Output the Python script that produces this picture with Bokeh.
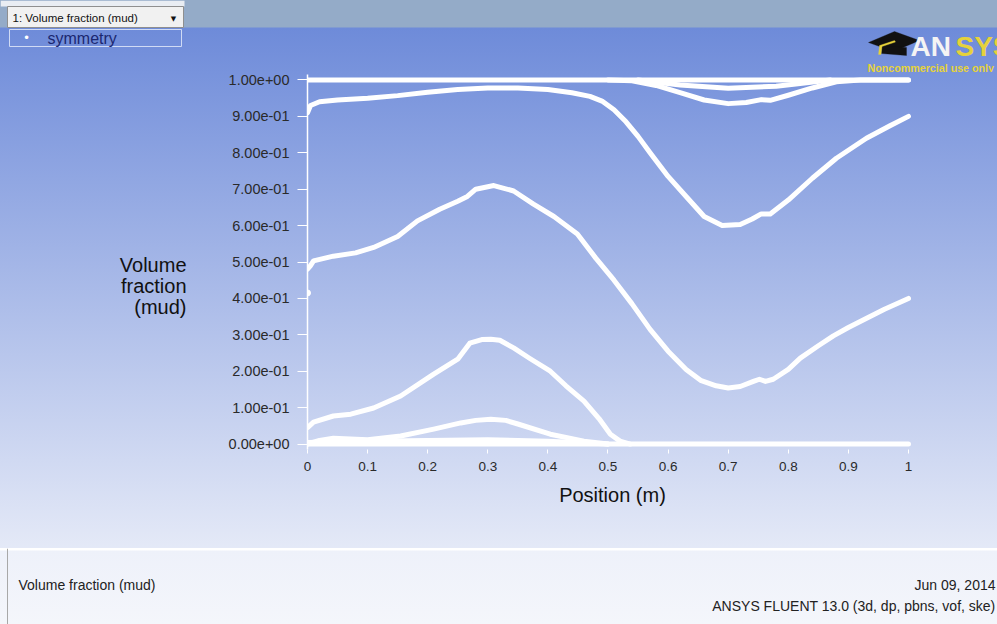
from bokeh.plotting import figure
from bokeh.layouts import column, row
from bokeh.models import (Range1d, FixedTicker, CustomJSTickFormatter, Label, BoxAnnotation,
                          PolyAnnotation)
from bokeh.embed import file_html
from bokeh.resources import INLINE

# ---------------- data ----------------
x_ticks = [0, 0.1, 0.2, 0.3, 0.4, 0.5, 0.6, 0.7, 0.8, 0.9, 1.0]
x_tick_labels = ["0", "0.1", "0.2", "0.3", "0.4", "0.5", "0.6", "0.7", "0.8", "0.9", "1"]
y_ticks = [0, 0.1, 0.2, 0.3, 0.4, 0.5, 0.6, 0.7, 0.8, 0.9, 1.0]
y_tick_labels = ["0.00e+00", "1.00e-01", "2.00e-01", "3.00e-01", "4.00e-01", "5.00e-01",
                 "6.00e-01", "7.00e-01", "8.00e-01", "9.00e-01", "1.00e+00"]

top_x = [0.0, 1.0]
top_y = [1.0, 1.0]

dip_a_x = [0.50, 0.54, 0.58, 0.62, 0.66, 0.70, 0.73, 0.755, 0.77, 0.80, 0.84, 0.88, 0.92, 1.0]
dip_a_y = [1.0, 0.998, 0.985, 0.965, 0.945, 0.935, 0.938, 0.946, 0.944, 0.958, 0.978, 0.995, 1.0, 1.0]

dip_b_x = [0.55, 0.62, 0.70, 0.78, 0.87]
dip_b_y = [1.0, 0.986, 0.977, 0.983, 1.0]

c1_x = [0, 0.005, 0.02, 0.05, 0.1, 0.15, 0.2, 0.25, 0.3, 0.35, 0.4, 0.44, 0.47, 0.49, 0.51,
        0.53, 0.55, 0.57, 0.6, 0.63, 0.66, 0.69, 0.72, 0.74, 0.755, 0.77, 0.8, 0.84, 0.88,
        0.93, 0.97, 1.0]
c1_y = [0.91, 0.93, 0.94, 0.945, 0.95, 0.957, 0.966, 0.974, 0.978, 0.978, 0.974, 0.965,
        0.955, 0.942, 0.918, 0.885, 0.845, 0.8, 0.735, 0.68, 0.625, 0.6, 0.603, 0.618, 0.632,
        0.632, 0.67, 0.73, 0.785, 0.84, 0.875, 0.90]

c2_x = [0, 0.005, 0.01, 0.043, 0.08, 0.11, 0.15, 0.183, 0.22, 0.25, 0.266, 0.28, 0.31,
        0.343, 0.376, 0.41, 0.449, 0.48, 0.51, 0.54, 0.57, 0.6, 0.63, 0.654, 0.68, 0.70,
        0.72, 0.742, 0.752, 0.762, 0.775, 0.8, 0.82, 0.85, 0.875, 0.9, 0.932, 0.96, 1.0]
c2_y = [0.48, 0.49, 0.503, 0.516, 0.525, 0.54, 0.57, 0.613, 0.645, 0.667, 0.68, 0.70, 0.71,
        0.695, 0.659, 0.625, 0.577, 0.51, 0.45, 0.385, 0.315, 0.255, 0.205, 0.175, 0.16,
        0.154, 0.158, 0.172, 0.178, 0.172, 0.178, 0.205, 0.236, 0.27, 0.297, 0.32, 0.347,
        0.37, 0.40]

c3_x = [0, 0.01, 0.043, 0.072, 0.11, 0.155, 0.21, 0.25, 0.27, 0.29, 0.305, 0.32, 0.343,
        0.37, 0.404, 0.43, 0.46, 0.485, 0.504, 0.52, 0.537]
c3_y = [0.045, 0.06, 0.077, 0.082, 0.099, 0.132, 0.192, 0.233, 0.277, 0.287, 0.288, 0.285,
        0.264, 0.235, 0.2, 0.16, 0.118, 0.07, 0.027, 0.008, 0.0]

c4_x = [0, 0.02, 0.043, 0.1, 0.155, 0.21, 0.255, 0.28, 0.305, 0.33, 0.35, 0.404, 0.46, 0.5]
c4_y = [0.0, 0.01, 0.016, 0.012, 0.022, 0.041, 0.058, 0.065, 0.068, 0.065, 0.055, 0.027,
        0.008, 0.0]

c5_x = [0, 0.1, 0.2, 0.3, 0.4, 0.5]
c5_y = [0.004, 0.008, 0.01, 0.012, 0.008, 0.0]

zero_x = [0.0, 1.0]
zero_y = [0.0, 0.0]

lone_x = [0.0]
lone_y = [0.415]

# ---------------- layout ----------------
PW, PH = 997, 624
TOP_H = 72          # top strip (dropdown, legend, logo)
BOT_Y = 548         # start of bottom strip
LEFT_W = 200        # left strip with the y title
MID_H = BOT_Y - TOP_H
FONT = "Liberation Sans"

MW = PW - LEFT_W
FL = 307 - LEFT_W           # frame left inside main figure
FW, FH = 610, 375
FT = 2
FB = MID_H - FT - FH
X0, X1 = 0.0, 1.015
Y0, Y1 = -0.015, 1.015

C_TOP = (0x6e, 0x8b, 0xd9)
C_BOT = (0xe4, 0xe9, 0xf7)


def grad(py):
    t = min(max((py - 28) / (547 - 28), 0.0), 1.0)
    return "#%02x%02x%02x" % tuple(int(round(a + (b - a) * t)) for a, b in zip(C_TOP, C_BOT))


def deco_fig(w, h, x0, y0, bt=0, bb=0):
    # frame covers [x0, x0+w] x [y0+bt, y0+h-bb] in page pixels (y downwards)
    f = figure(width=w, height=h, output_backend="svg", toolbar_location=None,
               x_range=Range1d(x0, x0 + w), y_range=Range1d(y0 + h - bb, y0 + bt),
               x_axis_type=None, y_axis_type=None,
               min_border_left=0, min_border_right=0, min_border_top=bt, min_border_bottom=bb)
    f.background_fill_alpha = 0
    f.border_fill_alpha = 0
    f.outline_line_color = None
    f.grid.grid_line_color = None
    return f


def text(f, x, y, s, size, color="#111111", align="left", style="normal", font=FONT):
    f.add_layout(Label(x=x, y=y, text=s, text_align=align, text_baseline="middle",
                       text_font=font, text_font_size=size, text_color=color,
                       text_font_style=style))


# ---- top strip ----
top = deco_fig(PW, TOP_H, 0, 0)
top.styles = {"background": "linear-gradient(to bottom, #94abc8 0px, #94abc8 27px, "
                            "#6e8bd9 28px, %s %dpx)" % (grad(TOP_H), TOP_H)}
top.add_layout(BoxAnnotation(left=0, right=184, top=0, bottom=6, fill_color="#e9edf3",
                             fill_alpha=1, line_alpha=0))
top.add_layout(BoxAnnotation(left=7, right=183, top=6, bottom=27, fill_color="#f1f1f1",
                             fill_alpha=1, line_color="#8f8f8f", line_alpha=1, line_width=1))
text(top, 12, 17, "1: Volume fraction (mud)", "11.5px")
text(top, 173, 18, "\u25BC", "7px", align="center", font="DejaVu Sans")
top.add_layout(BoxAnnotation(left=9, right=181, top=29, bottom=46, fill_alpha=0,
                             line_color="#d0dbf5", line_alpha=1, line_width=1))
text(top, 26, 37.5, "\u2022", "12px", color="white", align="center", font="DejaVu Sans")
text(top, 47, 38, "symmetry", "16px", color="#1b2770")
# ANSYS logo (mortarboard + wordmark)
top.add_layout(PolyAnnotation(xs=[868, 894, 919, 893], ys=[42, 31, 40, 51],
                              fill_color="#111111", fill_alpha=1, line_color="#111111"))
top.add_layout(PolyAnnotation(xs=[881, 906, 906, 881], ys=[45, 47, 55, 53],
                              fill_color="#111111", fill_alpha=1, line_color="#111111"))
top.add_layout(PolyAnnotation(xs=[894, 879, 878, 880.5, 881.5, 895], ys=[40, 45, 54, 54, 46, 41.5],
                              fill_color="#e6d23a", fill_alpha=1, line_color="#e6d23a"))
text(top, 910, 46, "AN", "28px", color="#f4f4f4", style="bold")
text(top, 955, 46, "SYS", "28px", color="#e6d23a", style="bold")
text(top, 867, 67, "Noncommercial use only", "10.7px", color="#e6d23a", style="bold")

# ---- left strip (y title); its frame is aligned with the main frame ----
left = deco_fig(LEFT_W, MID_H, 0, TOP_H, bt=FT, bb=FB)
left.styles = {"background": "linear-gradient(to bottom, %s 0px, %s %dpx)"
                             % (grad(TOP_H), grad(BOT_Y), MID_H)}
for s, py in [("Volume", 264), ("fraction", 285), ("(mud)", 306)]:
    text(left, 186, py, s, "20px", align="right")

# ---- main plot ----
p = figure(width=MW, height=MID_H, output_backend="svg", toolbar_location=None,
           x_range=Range1d(X0, X1), y_range=Range1d(Y0, Y1),
           min_border_left=FL, min_border_top=FT,
           min_border_right=MW - FL - FW, min_border_bottom=FB)
p.background_fill_alpha = 0
p.border_fill_alpha = 0
p.outline_line_color = None
p.grid.grid_line_color = None
p.styles = {"background": "linear-gradient(to bottom, %s 0px, %s %dpx)"
                          % (grad(TOP_H), grad(BOT_Y), MID_H)}

fmt_code = ("const i = tvals.findIndex(t => Math.abs(t - tick) < 1e-9);"
            "return i >= 0 ? tlabels[i] : String(tick);")

xa = p.xaxis[0]
xa.ticker = FixedTicker(ticks=x_ticks)
xa.formatter = CustomJSTickFormatter(args=dict(tvals=x_ticks, tlabels=x_tick_labels), code=fmt_code)
xa.axis_line_color = None
xa.major_tick_line_color = "white"
xa.major_tick_out = 4
xa.major_tick_in = 0
xa.minor_tick_line_color = None
xa.major_label_standoff = 8
xa.major_label_text_font = FONT
xa.major_label_text_font_size = "13.5px"
xa.major_label_text_color = "#2a2a2a"
xa.axis_label = "Position (m)"
xa.axis_label_text_font = FONT
xa.axis_label_text_font_size = "20px"
xa.axis_label_text_font_style = "normal"
xa.axis_label_text_color = "#111111"
xa.axis_label_standoff = 10

ya = p.yaxis[0]
ya.ticker = FixedTicker(ticks=y_ticks)
ya.formatter = CustomJSTickFormatter(args=dict(tvals=y_ticks, tlabels=y_tick_labels), code=fmt_code)
ya.axis_line_color = "white"
ya.axis_line_width = 1.5
ya.major_tick_line_color = "white"
ya.major_tick_out = 10
ya.major_tick_in = 0
ya.minor_tick_line_color = None
ya.major_label_standoff = 8
ya.major_label_text_font = FONT
ya.major_label_text_font_size = "14.5px"
ya.major_label_text_color = "#2a2a2a"

for xs, ys in [(top_x, top_y), (dip_b_x, dip_b_y), (dip_a_x, dip_a_y), (c1_x, c1_y),
               (c2_x, c2_y), (c3_x, c3_y), (c4_x, c4_y), (c5_x, c5_y), (zero_x, zero_y)]:
    p.line(xs, ys, line_color="white", line_width=5, line_cap="round", line_join="round")
p.scatter(lone_x, lone_y, size=6, fill_color="white", line_color="white")

# ---- bottom strip ----
bot = deco_fig(PW, PH - BOT_Y, 0, BOT_Y)
bot.styles = {"background": "linear-gradient(to bottom, #ffffff 0px, #ffffff 2px, "
                            "#eef1fa 3px, #f4f6fb %dpx)" % (PH - BOT_Y)}
bot.add_layout(BoxAnnotation(left=6.5, right=7.5, top=BOT_Y, bottom=PH, fill_color="#a8a8a8",
                             fill_alpha=1, line_alpha=0))
text(bot, 18, 584, "Volume fraction (mud)", "14px", color="#222222")
text(bot, 995, 584, "Jun 09, 2014", "14px", color="#222222", align="right")
text(bot, 995, 605, "ANSYS FLUENT 13.0 (3d, dp, pbns, vof, ske)", "14px",
     color="#222222", align="right")

layout = column(top, row(left, p), bot)
open("out.html", "w").write(file_html(layout, INLINE))
